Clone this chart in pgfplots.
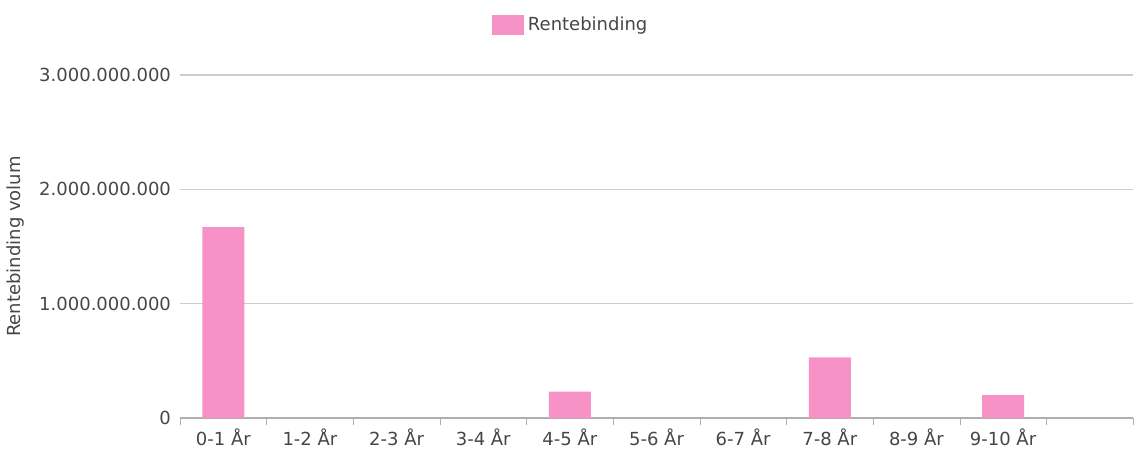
\documentclass[border=0pt]{standalone}
\usepackage{fontspec}
\setmainfont{DejaVu Sans}
\usepackage{pgfplots}
\pgfplotsset{compat=1.18}
\definecolor{barpink}{RGB}{247,146,199}
\definecolor{gridgray}{RGB}{205,205,205}
\definecolor{axisgray}{RGB}{175,175,175}
\definecolor{txt}{RGB}{70,70,70}
\begin{document}
\begin{tikzpicture}
\path[use as bounding box] (-90pt,-16pt) rectangle (477pt,209pt);
\begin{axis}[
  at={(0,0)}, anchor=south west,
  scale only axis,
  width=476.5pt, height=171.5pt,
  font=\fontsize{9}{11}\selectfont\color{txt},
  xmin=-0.5, xmax=10.5,
  ymin=0, ymax=3e9,
  scaled y ticks=false,
  xtick={0,...,9},
  xticklabels={0-1 År,1-2 År,2-3 År,3-4 År,4-5 År,5-6 År,6-7 År,7-8 År,8-9 År,9-10 År},
  minor xtick={-0.5,0.5,...,10.5},
  ytick={0,1e9,2e9,3e9},
  yticklabels={0,1.000.000.000,2.000.000.000,3.000.000.000},
  major tick length=0pt,
  minor tick length=3.5pt,
  tick align=outside,
  minor tick style={axisgray},
  axis x line*=bottom,
  axis y line*=left,
  separate axis lines,
  x axis line style={axisgray, line width=0.8pt, -},
  y axis line style={draw=none},
  ymajorgrids,
  major grid style={gridgray, line width=0.8pt},
  xticklabel style={yshift=-2pt},
  yticklabel style={xshift=-1pt},
  ylabel={Rentebinding volum},
  ylabel style={at={(axis description cs:-0.1731,0.5)}, anchor=center},
  legend style={at={(axis description cs:0.411,1)}, anchor=center, yshift=25pt,
    draw=none, fill=none, font=\fontsize{9}{11}\selectfont\color{txt}},
  ybar, bar width=0.485,
]
\addplot[fill=barpink, draw=none,
  legend image code/.code={\fill[barpink] (0pt,-5pt) rectangle (16pt,5pt);}] coordinates {
 (0,1.67e9) (1,0) (2,0) (3,0) (4,0.23e9) (5,0) (6,0) (7,0.53e9) (8,0) (9,0.20e9)
};
\legend{Rentebinding}
\end{axis}
\end{tikzpicture}
\end{document}
